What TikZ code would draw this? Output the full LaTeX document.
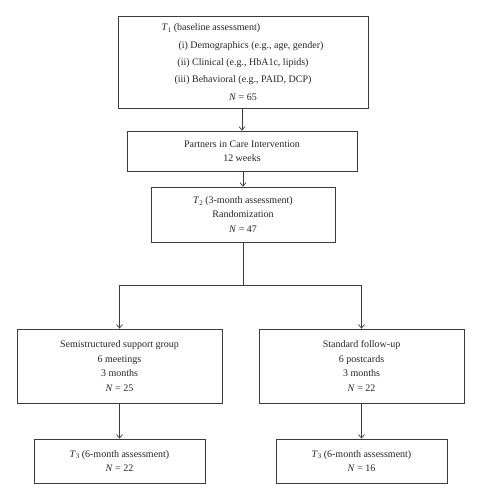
\documentclass[tikz,border=0pt]{standalone}
\usepackage{fontspec}
\setmainfont{Liberation Serif}
\usetikzlibrary{arrows.meta}
\newcommand\Tsb[1]{\textit{T}\raisebox{-0.35ex}{\fontsize{7}{7}\selectfont #1}}
\begin{document}
\begin{tikzpicture}[x=1pt,y=-1pt,
  box/.style={draw=linec, line width=0.8pt, inner sep=0pt, align=center,
    text=black!85, font=\fontsize{10}{14.5}\selectfont},
  conn/.style={draw=linec, line width=0.8pt},
  arr/.style={conn, -{Straight Barb[length=3.5pt,width=6pt,line width=0.7pt]}}]
\definecolor{linec}{HTML}{3C3C3C}
\useasboundingbox[fill=white] (0,0) rectangle (481,500);
\node[box, minimum width=250pt, minimum height=92pt,
  font=\fontsize{10}{17.3}\selectfont] (b1) at (243,62)
  {\Tsb{1} (baseline assessment)\hspace*{64pt}\\
   \hspace*{16pt}(i) Demographics (e.g., age, gender)\\
   (ii) Clinical (e.g., HbA1c, lipids)\\
   (iii) Behavioral (e.g., PAID, DCP)\\
   \textit{N} = 65};
\node[box, minimum width=230pt, minimum height=40pt] (b2) at (242,151)
  {Partners in Care Intervention\\12 weeks};
\node[box, minimum width=184pt, minimum height=55pt] (b3) at (243,214.5)
  {\Tsb{2} (3-month assessment)\\Randomization\\\textit{N} = 47};
\node[box, minimum width=205pt, minimum height=74pt] (b4l) at (119.5,366)
  {Semistructured support group\\6 meetings\\3 months\\\textit{N} = 25};
\node[box, minimum width=205pt, minimum height=74pt] (b4r) at (361.5,366)
  {Standard follow-up\\6 postcards\\3 months\\\textit{N} = 22};
\node[box, minimum width=171pt, minimum height=44pt] (b5l) at (119.5,461)
  {\Tsb{3} (6-month assessment)\\\textit{N} = 22};
\node[box, minimum width=171pt, minimum height=44pt] (b5r) at (361.5,461)
  {\Tsb{3} (6-month assessment)\\\textit{N} = 16};
\coordinate (split) at (243,285);
\draw[arr] (b1.south -| b2.north) -- (b2.north);
\draw[arr] (b2.south -| b3.north) -- (b3.north);
\draw[conn] (b3.south) -- (split);
\draw[arr] (split) -| (b4l.north);
\draw[arr] (split) -| (b4r.north);
\draw[arr] (b4l.south) -- (b5l.north);
\draw[arr] (b4r.south) -- (b5r.north);
\end{tikzpicture}
\end{document}
